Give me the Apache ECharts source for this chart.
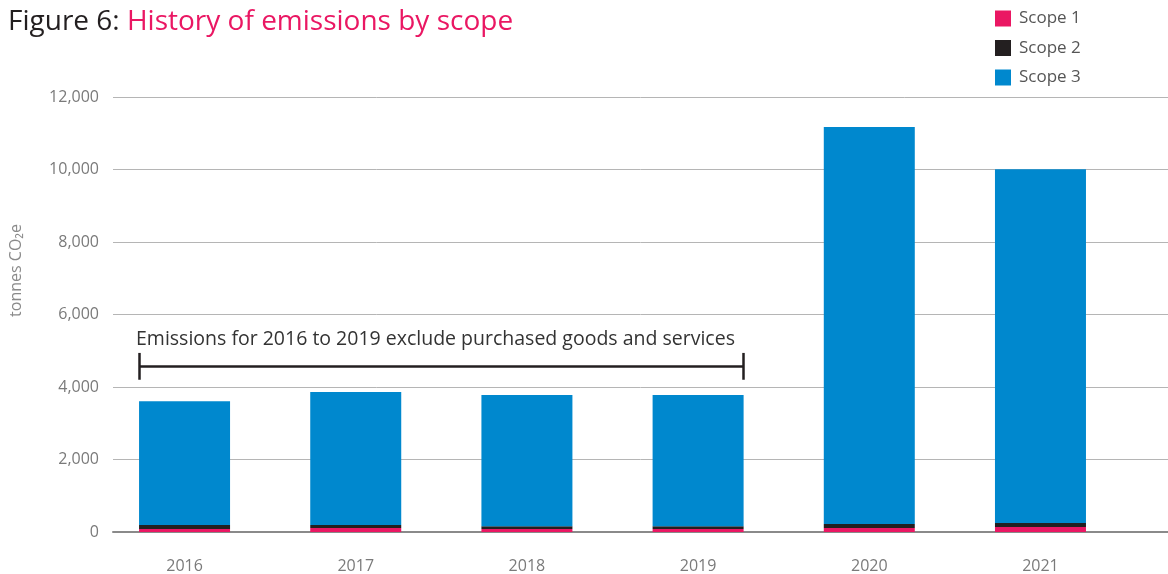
<!DOCTYPE html>
<html>
<head>
<meta charset="utf-8">
<script src="https://cdn.jsdelivr.net/npm/echarts@6/dist/echarts.min.js"></script>
<style>html,body{margin:0;padding:0;background:#fff}#c{width:1168px;height:574px}</style>
</head>
<body>
<div id="c"></div>
<script>
const categories = ['2016', '2017', '2018', '2019', '2020', '2021'];
const scope1 = [80, 110, 80, 80, 110, 140];
const scope2 = [110, 85, 80, 80, 110, 110];
const scope3 = [3420, 3665, 3620, 3620, 10950, 9760];
const yTicks = [0, 2000, 4000, 6000, 8000, 10000, 12000];
const noteText = 'Emissions for 2016 to 2019 exclude purchased goods and services';
const noteLevel = 4580;
const noteCapLow = 4200;
const noteCapHigh = 4940;

const FONT = 'Open Sans';
const COLORS = ['#ea1763', '#231f20', '#0088ce'];
const idx = categories.map((_, i) => i);
// value first, category index second (so the value dimension is the stacked one)
const pairs = arr => arr.map((v, i) => [v, i]);
const half = 0.266;
const x0 = -half, x1 = 3 + half;

const chart = echarts.init(document.getElementById('c'), null, {renderer: 'canvas'});
const barBase = {type: 'bar', stack: 's', barWidth: 91, encode: {x: 1, y: 0}};
chart.setOption({
  animation: false,
  textStyle: {fontFamily: FONT},
  title: {
    left: 8, top: 8, padding: 0,
    text: '{a|Figure 6: }{b|History of emissions by scope}',
    textStyle: {
      rich: {
        a: {fontFamily: FONT, fontSize: 28, fontWeight: 'normal', color: '#231f20'},
        b: {fontFamily: FONT, fontSize: 28, fontWeight: 'normal', color: '#ea1763'}
      }
    }
  },
  legend: {
    orient: 'vertical', left: 995, top: 10, padding: 0,
    itemWidth: 16, itemHeight: 16, itemGap: 12.5,
    icon: 'rect',
    textStyle: {fontFamily: FONT, fontSize: 17, color: '#555', padding: [0, 0, 0, 3]},
    data: ['Scope 1', 'Scope 2', 'Scope 3']
  },
  grid: {left: 113, right: 0, top: 97, bottom: 42, outerBoundsMode: 'none', containLabel: false},
  xAxis: {
    type: 'value', min: -0.418, max: 5.745,
    splitLine: {show: false},
    axisTick: {show: false},
    axisLine: {show: true, onZero: true, lineStyle: {color: '#8a8a8a', width: 2}},
    axisLabel: {
      customValues: idx,
      formatter: v => categories[Math.round(v)] || '',
      color: '#7a7a7a', fontSize: 16, fontFamily: FONT, margin: 26
    }
  },
  yAxis: {
    type: 'value', min: 0, max: 12000, interval: 2000,
    name: 'tonnes CO₂e', nameLocation: 'middle', nameGap: 89, nameRotate: 90,
    nameTextStyle: {color: '#8a8a8a', fontSize: 16, fontFamily: FONT, padding: [0, 0, 0, 88]},
    axisLine: {show: false}, axisTick: {show: false},
    splitLine: {lineStyle: {color: '#b5b5b5', width: 1}},
    axisLabel: {
      formatter: v => yTicks.includes(v) ? v.toLocaleString('en-US') : '',
      color: '#7a7a7a', fontSize: 16, fontFamily: FONT, margin: 14
    }
  },
  series: [
    Object.assign({name: 'Scope 1', itemStyle: {color: COLORS[0]}, data: pairs(scope1)}, barBase),
    Object.assign({name: 'Scope 2', itemStyle: {color: COLORS[1]}, data: pairs(scope2)}, barBase),
    Object.assign({name: 'Scope 3', itemStyle: {color: COLORS[2]}, data: pairs(scope3),
      markLine: {
        silent: true, symbol: 'none',
        lineStyle: {color: '#231f20', width: 2.5, type: 'solid'},
        label: {show: false},
        data: [
          [{coord: [x0, noteLevel], label: {show: true, position: 'insideStartTop', formatter: noteText, distance: [-3, 17], color: '#333', fontSize: 19.5, fontFamily: FONT}},
           {coord: [x1, noteLevel]}],
          [{coord: [x0, noteCapLow]}, {coord: [x0, noteCapHigh]}],
          [{coord: [x1, noteCapLow]}, {coord: [x1, noteCapHigh]}]
        ]
      }
    }, barBase)
  ]
});
</script>
</body>
</html>
